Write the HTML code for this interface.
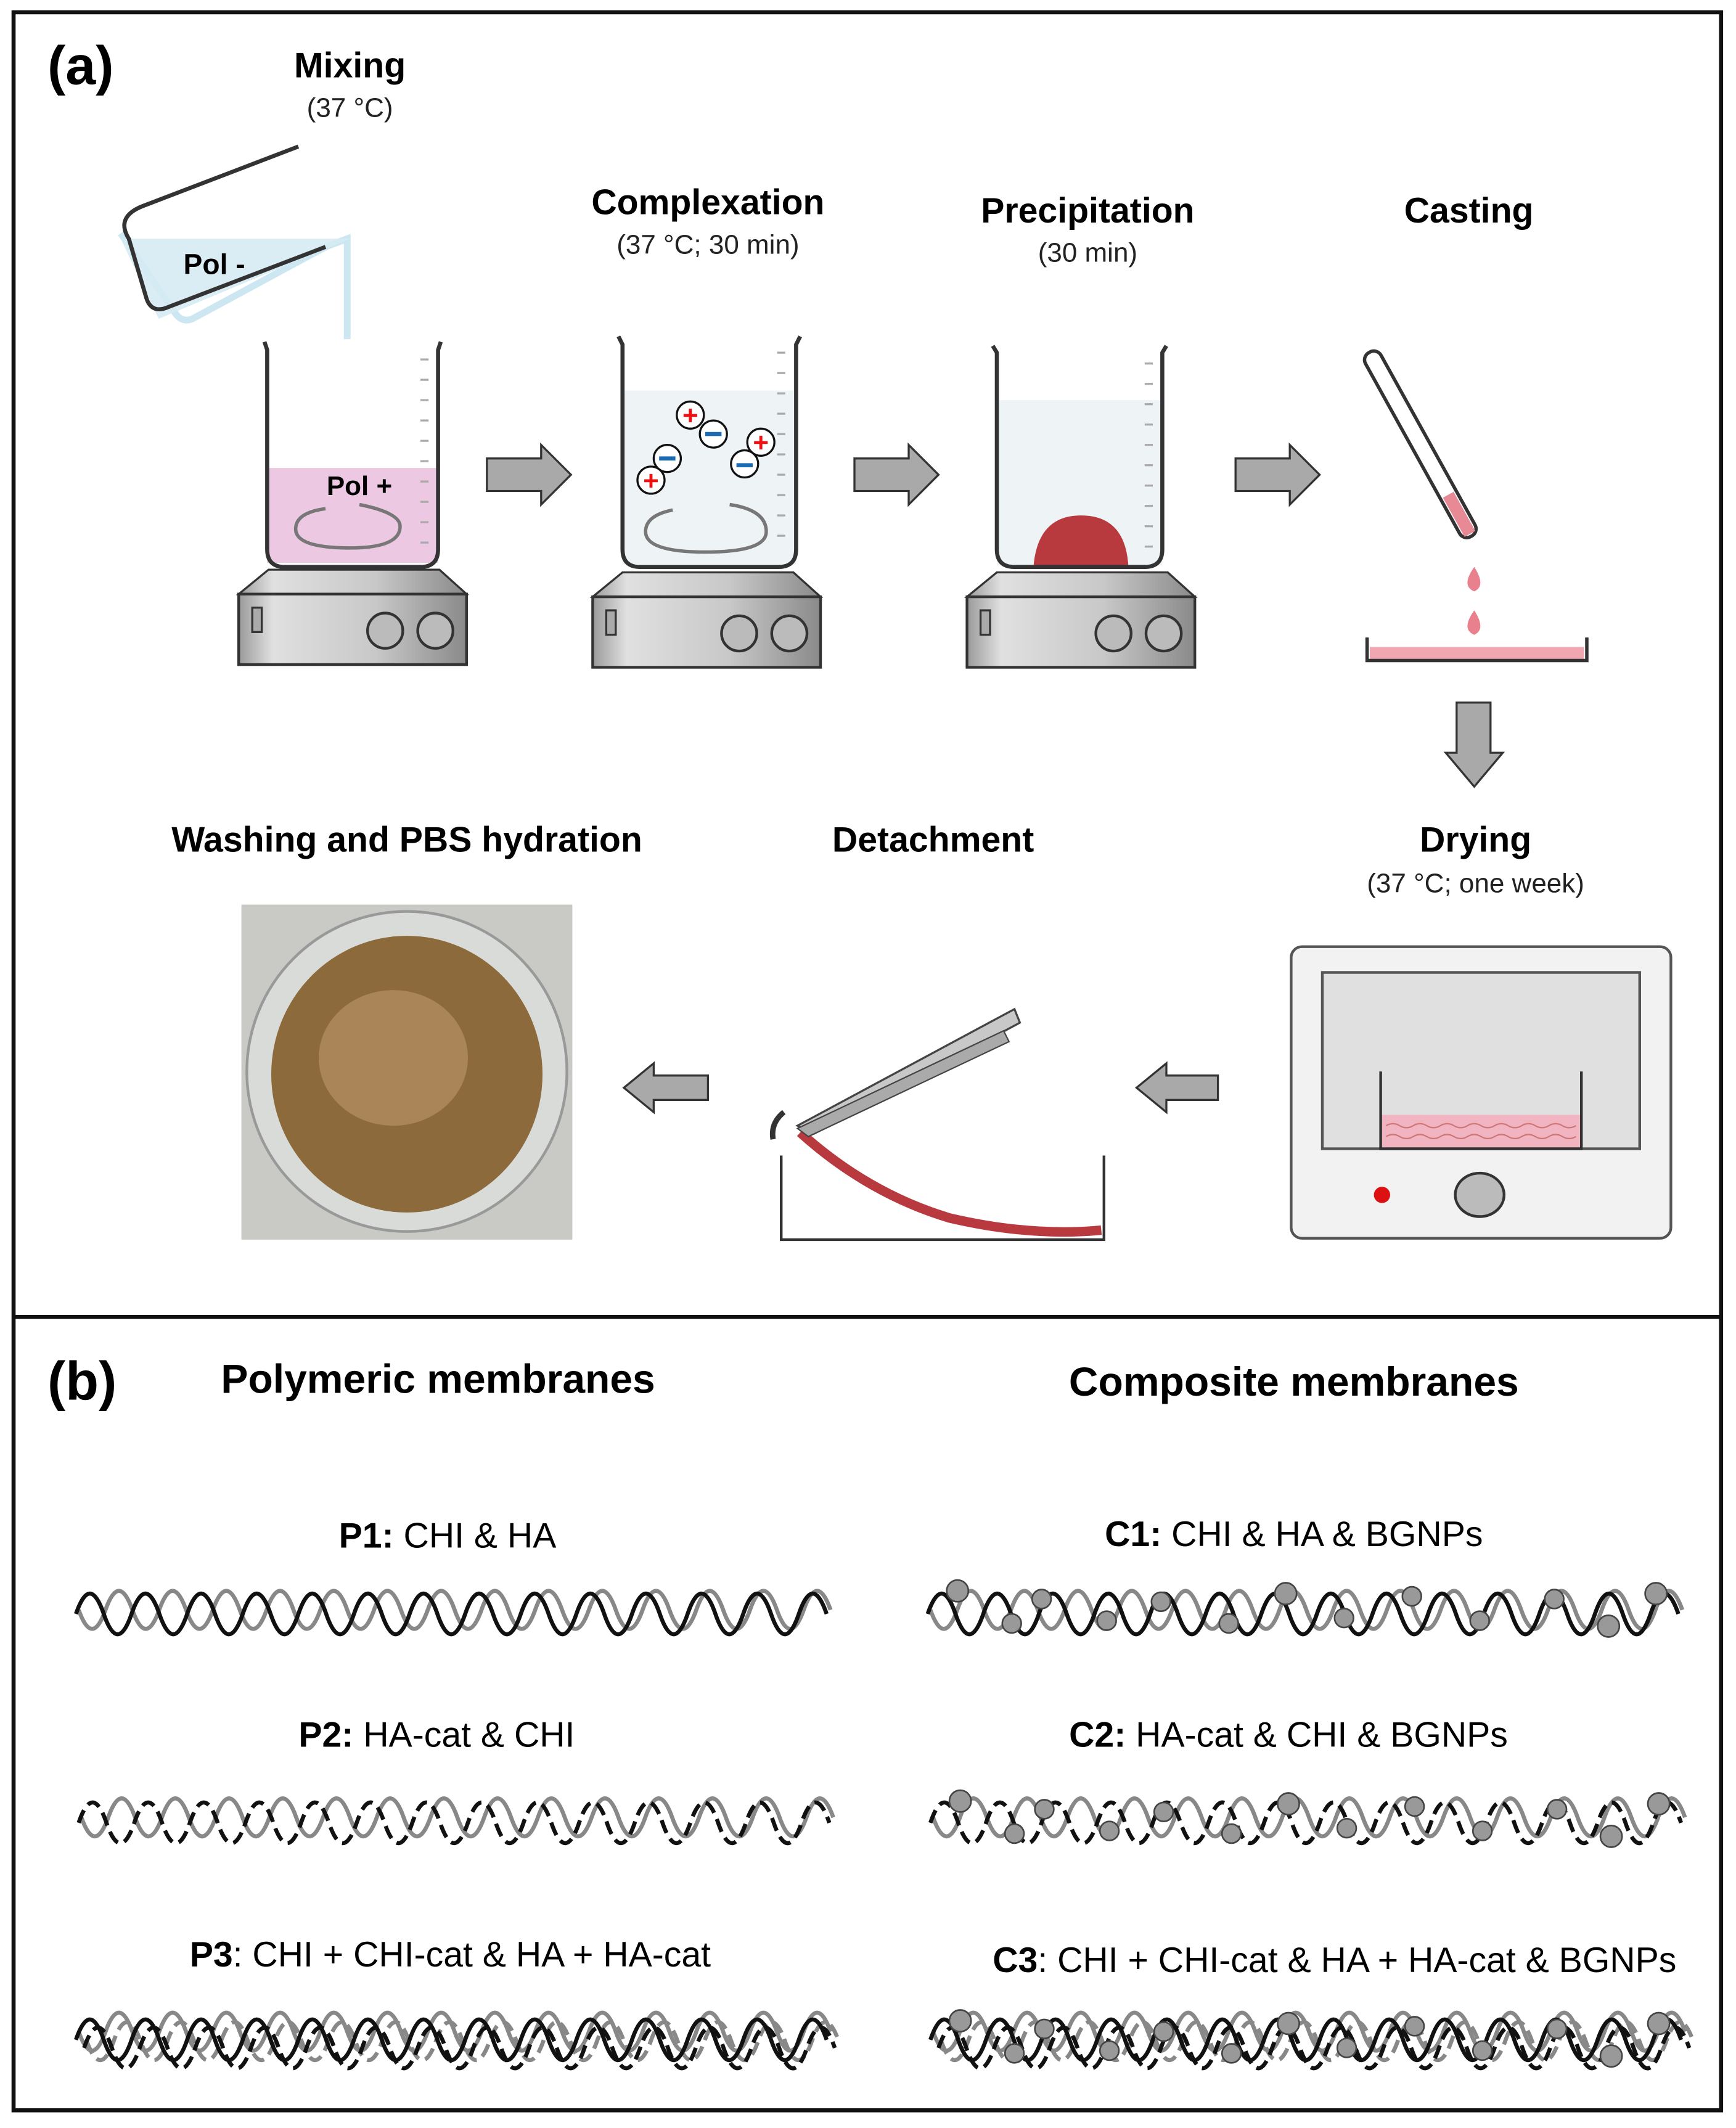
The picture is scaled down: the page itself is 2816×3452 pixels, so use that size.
<!DOCTYPE html>
<html><head><meta charset="utf-8"><style>
html,body{margin:0;padding:0;background:#fff}
svg{display:block}
text{font-family:"Liberation Sans Narrow","Liberation Sans",sans-serif}
.t{font-weight:bold;font-size:26px;text-anchor:middle}
.s{font-size:20px;text-anchor:middle;fill:#222}
.l{font-size:26px;text-anchor:middle}
</style></head><body>
<svg width="2816" height="3452" viewBox="0 0 1280 1569" xmlns="http://www.w3.org/2000/svg">
<defs>
<linearGradient id="met" x1="0" x2="1"><stop offset="0" stop-color="#9a9a9a"/><stop offset="0.15" stop-color="#e0e0e0"/><stop offset="0.6" stop-color="#c8c8c8"/><stop offset="1" stop-color="#8a8a8a"/></linearGradient>
<g id="stir">
<path d="M22,0 L148,0 L168,18 L0,18 Z" fill="url(#met)" stroke="#333" stroke-width="1.5"/>
<rect x="0" y="18" width="168" height="52" fill="url(#met)" stroke="#333" stroke-width="2"/>
<rect x="10" y="28" width="7" height="18" fill="#aaa" stroke="#333" stroke-width="1.5"/>
<circle cx="108" cy="45" r="13" fill="#bbb" stroke="#333" stroke-width="2"/>
<circle cx="145" cy="45" r="13" fill="#bbb" stroke="#333" stroke-width="2"/>
</g>
<g id="ticks" stroke="#aaa" stroke-width="1.5">
<line x1="0" y1="0" x2="6" y2="0"/><line x1="0" y1="15" x2="6" y2="15"/><line x1="0" y1="30" x2="6" y2="30"/><line x1="0" y1="45" x2="6" y2="45"/><line x1="0" y1="60" x2="6" y2="60"/><line x1="0" y1="75" x2="6" y2="75"/><line x1="0" y1="90" x2="6" y2="90"/><line x1="0" y1="105" x2="6" y2="105"/><line x1="0" y1="120" x2="6" y2="120"/><line x1="0" y1="135" x2="6" y2="135"/>
</g>
<path id="arR" d="M0,-12 L40,-12 L40,-22 L62,0 L40,22 L40,12 L0,12 Z" fill="#a9a9a9" stroke="#333" stroke-width="1.5"/>
</defs>
<rect x="10" y="9" width="1259" height="1547" fill="none" stroke="#111" stroke-width="3"/>
<line x1="10" y1="971" x2="1269" y2="971" stroke="#111" stroke-width="3"/>

<text x="35" y="62" style="font-weight:bold;font-size:40px">(a)</text>
<text x="258" y="57" class="t">Mixing</text>
<text x="258" y="86" class="s">(37 °C)</text>
<path d="M89,172 L130,232 Q135,238 142,235 L240,182 L256,176 L256,250" fill="none" stroke="#cde7f2" stroke-width="5"/>
<path d="M89,176 L258,176 L117,235 Z" fill="#d6ebf4" opacity="0.9"/>
<path d="M220,108 L105,152 Q85,160 95,176 L108,220 Q112,232 125,226 L240,182" fill="none" stroke="#333" stroke-width="3"/>
<text x="158" y="202" style="font-weight:bold;font-size:21px;text-anchor:middle">Pol -</text>
<rect x="197" y="345" width="126" height="70" fill="#ecc8e2"/>
<path d="M195,252 L197,258 L197,405 Q197,418 210,418 L310,418 Q323,418 323,405 L323,258 L325,252" fill="none" stroke="#333" stroke-width="3"/>
<use href="#ticks" x="310" y="265"/>
<text x="265" y="365" style="font-weight:bold;font-size:20px;text-anchor:middle">Pol +</text>
<path d="M265,372 Q295,378 295,388 Q295,404 258,404 Q218,404 218,390 Q218,378 240,375" fill="none" stroke="#777" stroke-width="2.5"/>
<use href="#stir" x="176" y="420"/>
<use href="#arR" x="359" y="350"/>
<text x="522" y="158" class="t">Complexation</text>
<text x="522" y="187" class="s">(37 °C; 30 min)</text>
<rect x="459" y="288" width="128" height="128" fill="#eef4f6"/>
<path d="M456,248 L459,254 L459,405 Q459,418 472,418 L574,418 Q587,418 587,405 L587,254 L590,248" fill="none" stroke="#333" stroke-width="3"/>
<use href="#ticks" x="573" y="260"/>
<g stroke="#111" stroke-width="1.5" fill="#fff">
<circle cx="509" cy="306" r="10"/><circle cx="526" cy="320" r="10"/><circle cx="561" cy="326" r="10"/><circle cx="549" cy="342" r="10"/><circle cx="492" cy="338" r="10"/><circle cx="480" cy="354" r="10"/></g>
<g fill="#e11" font-weight="bold" font-size="20" text-anchor="middle"><text x="509" y="313">+</text><text x="561" y="333">+</text><text x="480" y="361">+</text></g>
<g stroke="#1a6bb5" stroke-width="3"><line x1="520" y1="320" x2="532" y2="320"/><line x1="543" y1="343" x2="555" y2="343"/><line x1="486" y1="338" x2="498" y2="338"/></g>
<path d="M538,372 Q565,376 565,392 Q565,407 520,407 Q476,407 476,392 Q476,380 496,376" fill="none" stroke="#777" stroke-width="2.5"/>
<use href="#stir" x="437" y="422"/>
<use href="#arR" x="630" y="350"/>
<text x="802" y="164" class="t">Precipitation</text>
<text x="802" y="193" class="s">(30 min)</text>
<rect x="735" y="295" width="122" height="122" fill="#eef4f6"/>
<path d="M762,418 Q765,380 797,380 Q830,380 832,418 Z" fill="#b83a3f"/>
<path d="M732,255 L735,260 L735,405 Q735,418 748,418 L844,418 Q857,418 857,405 L857,260 L860,255" fill="none" stroke="#333" stroke-width="3"/>
<use href="#ticks" x="844" y="268"/>
<use href="#stir" x="713" y="422"/>
<use href="#arR" x="911" y="350"/>
<text x="1083" y="164" class="t">Casting</text>
<g transform="rotate(-29 1048 330)">
<rect x="1042" y="250" width="13" height="155" rx="6" fill="#fff" stroke="#333" stroke-width="2.5"/>
<rect x="1044" y="370" width="9" height="33" fill="#e78a96"/>
</g>
<path d="M1087,418 Q1096,432 1087,436 Q1077,432 1087,418 Z" fill="#e8808d"/>
<path d="M1087,450 Q1096,464 1087,468 Q1077,464 1087,450 Z" fill="#e8808d"/>
<rect x="1010" y="477" width="158" height="9" fill="#f0a7b0"/>
<path d="M1008,470 L1008,487 L1170,487 L1170,470" fill="none" stroke="#333" stroke-width="2.5"/>
<path d="M1074,518 L1099,518 L1099,555 L1108,555 L1087,580 L1066,555 L1074,555 Z" fill="#a9a9a9" stroke="#333" stroke-width="1.5"/>
<text x="1088" y="628" class="t">Drying</text>
<text x="1088" y="658" class="s">(37 °C; one week)</text>
<rect x="952" y="698" width="280" height="215" rx="8" fill="#f2f2f2" stroke="#555" stroke-width="2"/>
<rect x="975" y="717" width="234" height="130" fill="#e0e0e0" stroke="#555" stroke-width="2"/>
<rect x="1018" y="822" width="148" height="24" fill="#f2b4c0"/>
<path d="M1018,790 L1018,847 L1166,847 L1166,790" fill="none" stroke="#333" stroke-width="2"/>
<path d="M1022,830 q5,-3 10,0 t10,0 t10,0 t10,0 t10,0 t10,0 t10,0 t10,0 t10,0 t10,0 t10,0 t10,0 t10,0 t10,0 M1022,838 q5,-3 10,0 t10,0 t10,0 t10,0 t10,0 t10,0 t10,0 t10,0 t10,0 t10,0 t10,0 t10,0 t10,0 t10,0" fill="none" stroke="#c77" stroke-width="1"/>
<circle cx="1019" cy="881" r="6" fill="#d11"/>
<ellipse cx="1091" cy="881" rx="18" ry="16" fill="#bbb" stroke="#333" stroke-width="2"/>
<path d="M898,793 L860,793 L860,784 L838,802 L860,820 L860,811 L898,811 Z" fill="#a9a9a9" stroke="#333" stroke-width="1.5"/>
<path d="M522,793 L482,793 L482,784 L460,802 L482,820 L482,811 L522,811 Z" fill="#a9a9a9" stroke="#333" stroke-width="1.5"/>
<text x="688" y="628" class="t">Detachment</text>
<path d="M576,852 L576,914 L814,914 L814,852" fill="none" stroke="#333" stroke-width="2"/>
<path d="M590,835 Q640,880 700,898 Q760,912 812,907" fill="none" stroke="#b83a3f" stroke-width="7"/>
<path d="M578,820 Q568,828 570,840" fill="none" stroke="#333" stroke-width="4"/>
<path d="M588,830 L748,744 L752,754 L600,836 Z" fill="#c8c8c8" stroke="#444" stroke-width="1.5"/>
<path d="M588,832 L740,760 L744,768 L596,838 Z" fill="#aaa" stroke="#444" stroke-width="1"/>
<text x="300" y="628" class="t">Washing and PBS hydration</text>
<rect x="178" y="667" width="244" height="247" fill="#c9c9c6"/>
<ellipse cx="300" cy="790" rx="118" ry="118" fill="#d8dbd8" stroke="#999" stroke-width="2"/>
<ellipse cx="300" cy="792" rx="100" ry="102" fill="#8c6a3b"/>
<ellipse cx="290" cy="780" rx="55" ry="50" fill="#a98557"/>
<text x="35" y="1032" style="font-weight:bold;font-size:40px">(b)</text>
<text x="323" y="1027" class="t" style="font-size:30px">Polymeric membranes</text>
<text x="954" y="1029" class="t" style="font-size:30px">Composite membranes</text>
<text x="330" y="1141" class="l"><tspan font-weight="bold">P1:</tspan> CHI &amp; HA</text>
<text x="322" y="1288" class="l"><tspan font-weight="bold">P2:</tspan> HA-cat &amp; CHI</text>
<text x="332" y="1450" class="l"><tspan font-weight="bold">P3</tspan>: CHI + CHI-cat &amp; HA + HA-cat</text>
<text x="954" y="1140" class="l"><tspan font-weight="bold">C1:</tspan> CHI &amp; HA &amp; BGNPs</text>
<text x="950" y="1288" class="l"><tspan font-weight="bold">C2:</tspan> HA-cat &amp; CHI &amp; BGNPs</text>
<text x="984" y="1454" class="l"><tspan font-weight="bold">C3</tspan>: CHI + CHI-cat &amp; HA + HA-cat &amp; BGNPs</text>
<defs>
<path id="wb" d="M0,0 q10.25,-30 20.5,0 t20.5,0 t20.5,0 t20.5,0 t20.5,0 t20.5,0 t20.5,0 t20.5,0 t20.5,0 t20.5,0 t20.5,0 t20.5,0 t20.5,0 t20.5,0 t20.5,0 t20.5,0 t20.5,0 t20.5,0 t20.5,0 t20.5,0 t20.5,0 t20.5,0 t20.5,0 t20.5,0 t20.5,0 t20.5,0 t20.5,0"/>
<path id="wg" d="M0,0 q9.9,28 19.8,0 t19.8,0 t19.8,0 t19.8,0 t19.8,0 t19.8,0 t19.8,0 t19.8,0 t19.8,0 t19.8,0 t19.8,0 t19.8,0 t19.8,0 t19.8,0 t19.8,0 t19.8,0 t19.8,0 t19.8,0 t19.8,0 t19.8,0 t19.8,0 t19.8,0 t19.8,0 t19.8,0 t19.8,0 t19.8,0 t19.8,0 t19.8,0"/>
<g id="balls" fill="#999" stroke="#444" stroke-width="1.2">
<circle cx="20" cy="-14" r="8"/><circle cx="60" cy="10" r="7"/><circle cx="82" cy="-8" r="7"/><circle cx="130" cy="8" r="7"/><circle cx="170" cy="-6" r="7"/><circle cx="220" cy="10" r="7"/><circle cx="262" cy="-12" r="8"/><circle cx="305" cy="6" r="7"/><circle cx="355" cy="-10" r="7"/><circle cx="405" cy="8" r="7"/><circle cx="460" cy="-8" r="7"/><circle cx="500" cy="12" r="8"/><circle cx="535" cy="-12" r="8"/>
</g>
</defs>
<g fill="none" stroke-width="3">
<use href="#wg" x="58" y="1187" stroke="#888"/><use href="#wb" x="56" y="1190" stroke="#111"/>
<use href="#wg" x="686" y="1187" stroke="#888"/><use href="#wb" x="684" y="1190" stroke="#111"/>
<use href="#wg" x="60" y="1340" stroke="#888"/><use href="#wb" x="58" y="1344" stroke="#111" stroke-dasharray="10,5"/>
<use href="#wg" x="688" y="1340" stroke="#888"/><use href="#wb" x="686" y="1344" stroke="#111" stroke-dasharray="10,5"/>
<use href="#wg" x="58" y="1498" stroke="#888"/><use href="#wg" x="64" y="1505" stroke="#888" stroke-dasharray="10,5"/><use href="#wb" x="56" y="1504" stroke="#111"/><use href="#wb" x="62" y="1510" stroke="#111" stroke-dasharray="10,5"/>
<use href="#wg" x="688" y="1498" stroke="#888"/><use href="#wg" x="694" y="1505" stroke="#888" stroke-dasharray="10,5"/><use href="#wb" x="686" y="1504" stroke="#111"/><use href="#wb" x="692" y="1510" stroke="#111" stroke-dasharray="10,5"/>
</g>
<use href="#balls" x="686" y="1187"/>
<use href="#balls" x="688" y="1342"/>
<use href="#balls" x="688" y="1504"/>
</svg>
</body></html>
